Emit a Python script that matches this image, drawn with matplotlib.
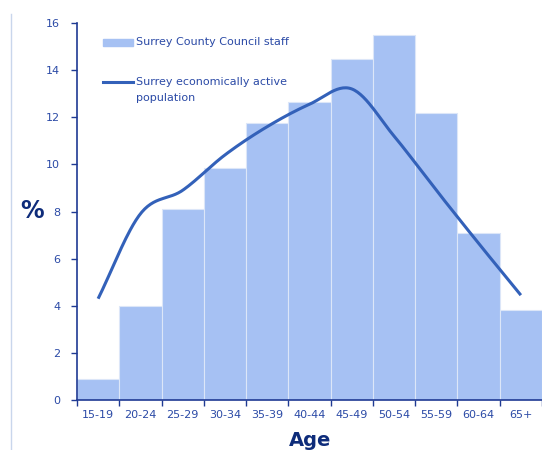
import numpy as np
import matplotlib
matplotlib.use("Agg")
import matplotlib.pyplot as plt
from matplotlib.lines import Line2D
from matplotlib.patches import Rectangle

# age bands and values
age_groups = ["15-19", "20-24", "25-29", "30-34", "35-39", "40-44",
              "45-49", "50-54", "55-59", "60-64", "65+"]
staff_pct = [0.9, 4.0, 8.1, 9.85, 11.75, 12.65, 14.45, 15.5, 12.2, 7.1, 3.8]
population_pct = [4.3, 7.9, 8.9, 10.4, 11.6, 12.55, 13.2, 11.2, 8.9, 6.65, 4.45]

text_col = "#2B4AA6"
axis_col = "#1F3A93"
bar_col = "#A6C1F3"
line_col = "#3361B9"


def smooth(xs, ys, n=30):
    # Catmull-Rom curve through the points (like Excel's smoothed line)
    xs = np.asarray(xs, float)
    ys = np.asarray(ys, float)
    px = np.concatenate([[2 * xs[0] - xs[1]], xs, [2 * xs[-1] - xs[-2]]])
    py = np.concatenate([[2 * ys[0] - ys[1]], ys, [2 * ys[-1] - ys[-2]]])
    out_x, out_y = [], []
    t = np.linspace(0, 1, n)
    for i in range(1, len(px) - 2):
        for p, out in ((px, out_x), (py, out_y)):
            p0, p1, p2, p3 = p[i - 1], p[i], p[i + 1], p[i + 2]
            out.extend(0.5 * (2 * p1 + (-p0 + p2) * t
                              + (2 * p0 - 5 * p1 + 4 * p2 - p3) * t ** 2
                              + (-p0 + 3 * p1 - 3 * p2 + p3) * t ** 3))
    return np.array(out_x), np.array(out_y)


fig = plt.figure(figsize=(5.42, 4.5), dpi=100)
ax = fig.add_axes([0.142, 0.111, 0.858, 0.838])

x = np.arange(len(age_groups))
ax.bar(x, staff_pct, width=1.0, color=bar_col, edgecolor="#DCE6F8",
       linewidth=0.8, zorder=2)
sx, sy = smooth(x, population_pct)
ax.plot(sx, sy, color=line_col, linewidth=2.2, solid_capstyle="butt", zorder=3)

ax.set_xlim(-0.5, len(age_groups) - 0.5)
ax.set_ylim(0, 16)
ax.set_yticks(range(0, 17, 2))
ax.set_xticks(np.arange(len(age_groups) + 1) - 0.5)
ax.set_xticklabels([])
ax.set_xticks(x, minor=True)
ax.set_xticklabels(age_groups, minor=True)
ax.tick_params(axis="x", which="minor", length=0, pad=7, labelsize=8, labelcolor=text_col)
ax.tick_params(axis="x", which="major", length=4, width=1, color=axis_col, direction="out")
ax.tick_params(axis="y", length=4, width=1, color=axis_col, labelsize=8,
               labelcolor=text_col, pad=8)

for side in ["top", "right"]:
    ax.spines[side].set_visible(False)
for side in ["left", "bottom"]:
    ax.spines[side].set_color(axis_col)
    ax.spines[side].set_linewidth(1.2)

fig.text(0.059, 0.531, "%", fontsize=17, fontweight="bold", color="#0E2C7A",
         ha="center", va="center")
fig.text(0.572, 0.022, "Age", fontsize=14, fontweight="bold", color="#0E2C7A",
         ha="center", va="center")

# thin border of the chart area on the left
fig.add_artist(Line2D([0.021, 0.021], [0, 0.97], color="#C9D6EC", linewidth=1,
                      transform=fig.transFigure))

# legend drawn by hand (figure pixel positions / size)
W, H = 542.0, 450.0
fig.add_artist(Rectangle((103 / W, 1 - 46 / H), 30 / W, 7 / H, color=bar_col,
                         transform=fig.transFigure))
fig.text(136 / W, 1 - 42 / H, "Surrey County Council staff", fontsize=8,
         color=text_col, va="center", ha="left")
fig.add_artist(Line2D([103 / W, 133 / W], [1 - 82 / H, 1 - 82 / H], color=line_col,
                      linewidth=2.2, transform=fig.transFigure))
fig.text(136 / W, 1 - 82 / H, "Surrey economically active", fontsize=8,
         color=text_col, va="center", ha="left")
fig.text(136 / W, 1 - 98 / H, "population", fontsize=8,
         color=text_col, va="center", ha="left")

fig.savefig("out.png", dpi=100)
